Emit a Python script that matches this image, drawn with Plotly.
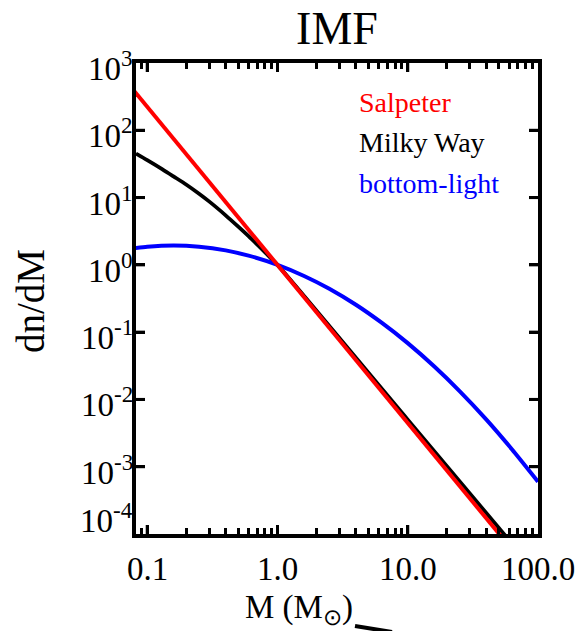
import plotly.graph_objects as go
import math

# ---- data ----
salpeter_m = [0.08, 1.0, 100.0]
salpeter_v = [377.0, 1.0, 2.0e-5]

milkyway_m = [0.082, 0.1, 0.13, 0.16, 0.2, 0.25, 0.3, 0.4, 0.5, 0.6, 0.7, 0.8, 0.9, 1.0, 10.0, 100.0]
milkyway_v = [45.0, 36.0, 26.5, 20.5, 15.5, 11.4, 8.7, 5.45, 3.7, 2.67, 2.0, 1.55, 1.23, 1.0, 5.0e-3, 2.5e-5]

bottomlight_m = [0.08, 0.1, 0.16, 0.25, 0.4, 0.6, 1.0, 1.6, 2.5, 4.0, 6.3, 10.0, 16.0, 25.0, 40.0, 63.0, 100.0]
bottomlight_v = [1.77, 1.86, 1.94, 1.86, 1.64, 1.37, 1.0, 0.684, 0.441, 0.255, 0.138, 0.0686,
                 0.0308, 0.0133, 5.06e-3, 1.82e-3, 6.0e-4]

series_names = ["Salpeter", "Milky Way", "bottom-light"]
series_colors = ["#ff0000", "#000000", "#0000ff"]

x_tickvals = [0.1, 1.0, 10.0, 100.0]
x_ticktext = ["0.1", "1.0", "10.0", "100.0"]
y_exponents = [-4, -3, -2, -1, 0, 1, 2, 3]

title_text = "IMF"
xtitle_text = "M (M<sub>⊙</sub>)"
ytitle_text = "dn/dM"

# ---- layout geometry (pixels) ----
W, H = 585, 631
L, R, T, B = 136, 538, 63, 534
FONT = "Liberation Serif"
X_LOG_RANGE = [math.log10(0.082), 2.0]
Y_LOG_RANGE = [-4, 3]
MAJOR_LEN = 9

def px(xp):
    return (xp - L) / (R - L)

def py(yp):
    return (B - yp) / (B - T)

def xval_to_paper(v):
    return (math.log10(v) - X_LOG_RANGE[0]) / (X_LOG_RANGE[1] - X_LOG_RANGE[0])

def yexp_to_paper(e):
    return (e - Y_LOG_RANGE[0]) / (Y_LOG_RANGE[1] - Y_LOG_RANGE[0])

fig = go.Figure()
fig.add_trace(go.Scatter(x=milkyway_m, y=milkyway_v, mode="lines",
                         line=dict(color=series_colors[1], width=3.8, shape="spline", smoothing=0.8),
                         name=series_names[1]))
fig.add_trace(go.Scatter(x=bottomlight_m, y=bottomlight_v, mode="lines",
                         line=dict(color=series_colors[2], width=4, shape="spline", smoothing=0.6),
                         name=series_names[2]))
fig.add_trace(go.Scatter(x=salpeter_m, y=salpeter_v, mode="lines",
                         line=dict(color=series_colors[0], width=4), name=series_names[0]))

axis_common = dict(
    showline=True, linecolor="black", linewidth=4, mirror="ticks",
    ticks="inside", tickcolor="black", tickwidth=3, ticklen=MAJOR_LEN,
    showgrid=False, zeroline=False, showticklabels=False,
    tickmode="linear", tick0=0, dtick=1,
)

fig.update_xaxes(type="log", range=X_LOG_RANGE,
                 minor=dict(ticks="inside", ticklen=6, tickwidth=3, tickcolor="black",
                            dtick="D1", showgrid=False),
                 **axis_common)
fig.update_yaxes(type="log", range=Y_LOG_RANGE, **axis_common)

annotations = []
shapes = []
tick_line = dict(color="black", width=3)
dx = MAJOR_LEN / (R - L)
dy = MAJOR_LEN / (B - T)

# x tick labels and major ticks (bottom and top)
for v, t in zip(x_tickvals, x_ticktext):
    xp = xval_to_paper(v)
    annotations.append(dict(x=xp, y=py(569), xref="paper", yref="paper",
                            text=t, showarrow=False, xanchor="center", yanchor="middle",
                            font=dict(family=FONT, size=33, color="black")))
    if 0 < xp < 0.999:
        shapes.append(dict(type="line", xref="paper", yref="paper", x0=xp, x1=xp, y0=0, y1=dy,
                           line=tick_line))
        shapes.append(dict(type="line", xref="paper", yref="paper", x0=xp, x1=xp, y0=1, y1=1 - dy,
                           line=tick_line))

# y tick labels and major ticks (left and right)
for e in y_exponents:
    yt = yexp_to_paper(e)
    yp = yt - 3.0 / (B - T)
    if e == Y_LOG_RANGE[0]:
        yp = py(518)
    annotations.append(dict(x=px(135), y=yp, xref="paper", yref="paper",
                            text="10<sup>%d</sup>" % e, showarrow=False,
                            xanchor="right", yanchor="middle",
                            font=dict(family=FONT, size=33, color="black")))
    if 0.001 < yt < 0.999:
        shapes.append(dict(type="line", xref="paper", yref="paper", x0=0, x1=dx, y0=yt, y1=yt,
                           line=tick_line))
        shapes.append(dict(type="line", xref="paper", yref="paper", x0=1, x1=1 - dx, y0=yt, y1=yt,
                           line=tick_line))

# in-plot legend
for i, (name, col) in enumerate(zip(series_names, series_colors)):
    annotations.append(dict(x=px(357), y=py(102 + 40.5 * i), xref="paper", yref="paper",
                            text=name, showarrow=False, xanchor="left", yanchor="middle",
                            font=dict(family=FONT, size=28, color=col)))
# axis titles
annotations.append(dict(x=px(299), y=py(609), xref="paper", yref="paper", text=xtitle_text,
                        showarrow=False, xanchor="center", yanchor="middle",
                        font=dict(family=FONT, size=33, color="black")))
annotations.append(dict(x=px(30), y=py(301), xref="paper", yref="paper", text=ytitle_text,
                        showarrow=False, xanchor="center", yanchor="middle", textangle=-90,
                        font=dict(family=FONT, size=39, color="black")))

# stray stroke from the cropped neighbouring panel
shapes.append(dict(type="line", xref="paper", yref="paper",
                   x0=px(355), y0=py(626), x1=px(392), y1=py(632),
                   line=dict(color="black", width=4)))

fig.update_layout(
    width=W, height=H,
    margin=dict(l=L, r=W - R, t=T, b=H - B),
    paper_bgcolor="white", plot_bgcolor="white",
    showlegend=False,
    title=dict(text=title_text, x=px((L + R) / 2), xref="paper", xanchor="center",
               y=1 - 28 / H, yref="container", yanchor="middle",
               font=dict(family=FONT, size=46, color="black")),
    annotations=annotations,
    shapes=shapes,
)

fig.write_html("out.html")
